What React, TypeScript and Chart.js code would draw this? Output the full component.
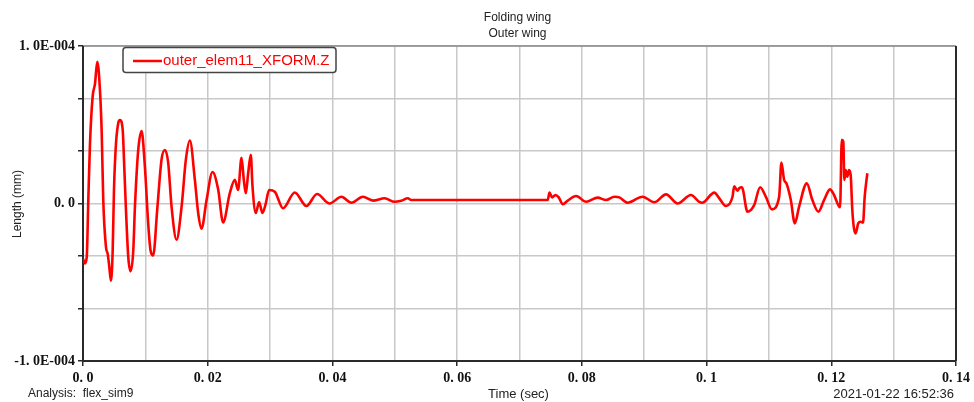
import { useEffect, useRef } from "react";
import { Chart, registerables } from "chart.js";

Chart.register(...registerables);

// Z displacement of outer_elem11 over time (values in units of 1e-5 mm)
const LENGTH_UNIT = 1e-5;

const timeSec = [
  0, 0.0003, 0.0006, 0.00085, 0.00112, 0.00155, 0.00192, 0.00229, 0.00272, 0.003,
  0.00325, 0.00368, 0.00396, 0.00421, 0.00448, 0.00476, 0.00497, 0.00529, 0.00565, 0.00593,
  0.00636, 0.00662, 0.00689, 0.00726, 0.00764, 0.00806, 0.00833, 0.00886, 0.0094, 0.00993,
  0.01046, 0.01084, 0.01126, 0.0119, 0.0126, 0.01313, 0.01366, 0.0142, 0.015, 0.01581,
  0.0165, 0.01714, 0.01794, 0.01847, 0.01901, 0.01981, 0.02077, 0.02167, 0.02247, 0.02354,
  0.02435, 0.02487, 0.02542, 0.02579, 0.02611, 0.02648, 0.02691, 0.02718, 0.02771, 0.02824,
  0.02878, 0.02931, 0.02984, 0.03075, 0.03208, 0.03396, 0.03583, 0.03753, 0.03956, 0.04143,
  0.04304, 0.04489, 0.0465, 0.04837, 0.04997, 0.05104, 0.0521, 0.05265, 0.07453, 0.0748,
  0.07523, 0.07576, 0.07629, 0.07693, 0.07773, 0.07908, 0.08068, 0.08254, 0.08388, 0.08521,
  0.08601, 0.08734, 0.08974, 0.09162, 0.09349, 0.09535, 0.09749, 0.09882, 0.09931, 0.10124,
  0.10204, 0.1031, 0.10416, 0.10443, 0.10496, 0.10523, 0.10566, 0.10656, 0.10763, 0.10859,
  0.1095, 0.11047, 0.11164, 0.112, 0.11244, 0.1128, 0.11351, 0.11415, 0.11484, 0.11607,
  0.11697, 0.11793, 0.11884, 0.1198, 0.12044, 0.12141, 0.12168, 0.12193, 0.12209, 0.12231,
  0.12257, 0.12284, 0.12311, 0.12337, 0.12364, 0.1239, 0.12432, 0.1247, 0.12509, 0.12536,
  0.12578,
];

const zLength = [
  -3.5, -3.8, -3.4, 0.2, 3.8, 6.8, 7.6, 9.0, 7.2, 4.5,
  0.2, -2.75, -3.2, -4.0, -4.9, -3.0, 0.9, 3.8, 5.1, 5.3,
  4.7, 2.3, -0.4, -3.4, -4.3, -3.0, -0.2, 3.4, 4.6, 2.3,
  -1.3, -3.0, -3.3, -0.4, 2.8, 3.4, 2.6, -0.2, -2.3, -0.2,
  2.8, 4.0, 1.5, -0.6, -1.6, 0.2, 2.0, 0.9, -1.2, 0.65,
  1.5, 0.86, 2.9, 1.5, 0.65, 1.9, 3.1, 1.1, -0.6, 0.1,
  -0.6, 0, 0.86, 0.75, -0.3, 0.7, -0.16, 0.6, 0, 0.43,
  0.05, 0.43, 0.18, 0.33, 0.11, 0.18, 0.33, 0.22, 0.22, 0.69,
  0.39, 0.54, 0.39, -0.05, 0.18, 0.48, 0.11, 0.37, 0.22, 0.43,
  0.39, 0.05, 0.43, 0.08, 0.58, 0, 0.54, 0.11, 0.05, 0.69,
  0.33, -0.16, 0.43, 1.1, 0.81, 0.97, 1.03, -0.52, -0.1, 1.03,
  0.43, -0.37, 0.43, 2.6, 1.49, 1.28, 0.22, -1.26, -0.2, 1.28,
  0.22, -0.52, 0.22, 0.9, 0.54, -0.24, 4.04, 3.93, 1.49, 2.13,
  1.7, 2.13, 1.81, -0.41, -1.58, -1.9, -1.26, -1.16, -1.22, 0.43,
  1.92,
];

const xTickValues = [0, 0.01, 0.02, 0.03, 0.04, 0.05, 0.06, 0.07, 0.08, 0.09, 0.1, 0.11, 0.12, 0.13, 0.14];
const xTickLabels = ["0. 0", "", "0. 02", "", "0. 04", "", "0. 06", "", "0. 08", "", "0. 1", "", "0. 12", "", "0. 14"];

const yTickValues = [-1e-4, -6.6667e-5, -3.3333e-5, 0, 3.3333e-5, 6.6667e-5, 1e-4];
const yTickLabels = ["-1. 0E-004", "", "", "0. 0", "", "", "1. 0E-004"];

const titleLines = ["Folding wing", "Outer wing"];
const seriesName = "outer_elem11_XFORM.Z";
const xAxisTitle = "Time (sec)";
const yAxisTitle = "Length (mm)";
const analysisText = "Analysis:  flex_sim9";
const stampText = "2021-01-22 16:52:36";

const SERIES_COLOR = "#ff0000";
const GRID_COLOR = "#c8c8c8";
const AXIS_COLOR = "#2a2a2a";
const TEXT_COLOR = "#222222";
const SANS = "'Liberation Sans', Arial, sans-serif";
const SERIF = "'Liberation Serif', 'Times New Roman', serif";

const decorations = {
  id: "plotDecorations",
  beforeDatasetsDraw(chart: any) {
    const { ctx, chartArea: a } = chart;
    ctx.save();
    // plot frame
    ctx.lineWidth = 1.5;
    ctx.strokeStyle = "#8a8a8a";
    ctx.beginPath();
    ctx.moveTo(a.left, a.top);
    ctx.lineTo(a.right, a.top);
    ctx.stroke();
    ctx.strokeStyle = AXIS_COLOR;
    ctx.lineWidth = 2;
    ctx.beginPath();
    ctx.moveTo(a.right, a.top);
    ctx.lineTo(a.right, a.bottom);
    ctx.stroke();
    ctx.beginPath();
    ctx.moveTo(a.left, a.top);
    ctx.lineTo(a.left, a.bottom);
    ctx.lineTo(a.right, a.bottom);
    ctx.stroke();
    ctx.restore();
  },
  afterDraw(chart: any) {
    const { ctx, chartArea: a } = chart;
    const cx = (a.left + a.right) / 2;
    ctx.save();
    ctx.fillStyle = TEXT_COLOR;
    ctx.textBaseline = "middle";
    ctx.textAlign = "center";
    ctx.font = `12px ${SANS}`;
    ctx.fillText(titleLines[0], cx - 2, 18);
    ctx.fillText(titleLines[1], cx - 2, 34);

    // bottom strip
    ctx.font = `13px ${SANS}`;
    ctx.fillText(xAxisTitle, cx - 1, 394);
    ctx.textAlign = "right";
    ctx.fillText(stampText, 954, 394);
    ctx.textAlign = "left";
    ctx.font = `12px ${SANS}`;
    ctx.fillText(analysisText, 28, 394);

    // y axis title
    ctx.save();
    ctx.translate(18, 204);
    ctx.rotate(-Math.PI / 2);
    ctx.textAlign = "center";
    ctx.fillText(yAxisTitle, 0, 0);
    ctx.restore();

    // legend box
    const ds = chart.data.datasets[0];
    const bx = 123, by = 47.5, bw = 213, bh = 25;
    ctx.fillStyle = "#ffffff";
    ctx.strokeStyle = "#444444";
    ctx.lineWidth = 1.5;
    ctx.beginPath();
    (ctx as any).roundRect(bx, by, bw, bh, 3);
    ctx.fill();
    ctx.stroke();
    ctx.strokeStyle = ds.borderColor;
    ctx.lineWidth = 2.5;
    ctx.beginPath();
    ctx.moveTo(133, 61);
    ctx.lineTo(162, 61);
    ctx.stroke();
    ctx.fillStyle = ds.borderColor;
    ctx.font = `15px ${SANS}`;
    ctx.textAlign = "left";
    ctx.fillText(ds.label, 163, 61);
    ctx.restore();
  },
};

export default function App() {
  const canvasRef = useRef<HTMLCanvasElement | null>(null);

  useEffect(() => {
    const canvas = canvasRef.current;
    if (!canvas) return;
    const points = timeSec.map((t, i) => ({ x: t, y: zLength[i] * LENGTH_UNIT }));

    const chart = new Chart(canvas, {
      type: "scatter",
      data: {
        datasets: [
          {
            label: seriesName,
            data: points,
            showLine: true,
            borderColor: SERIES_COLOR,
            backgroundColor: SERIES_COLOR,
            borderWidth: 2.6,
            borderJoinStyle: "round",
            pointRadius: 0,
            cubicInterpolationMode: "monotone",
          },
        ],
      },
      options: {
        animation: false,
        responsive: false,
        devicePixelRatio: 1,
        layout: { padding: { top: 46, right: 17, bottom: 0, left: 0 } },
        plugins: {
          legend: { display: false },
          tooltip: { enabled: false },
          title: { display: false },
        },
        scales: {
          x: {
            type: "linear",
            min: 0,
            max: 0.14,
            border: { display: false },
            afterBuildTicks: (scale: any) => {
              scale.ticks = xTickValues.map((v) => ({ value: v }));
            },
            afterFit: (scale: any) => {
              scale.height = 41;
            },
            grid: {
              color: GRID_COLOR,
              lineWidth: 1.5,
              drawTicks: true,
              tickLength: 5,
              tickWidth: 1.5,
              tickColor: (c: any) => (xTickLabels[c.index] ? AXIS_COLOR : "rgba(0,0,0,0)"),
            },
            ticks: {
              autoSkip: false,
              maxRotation: 0,
              padding: 4,
              color: "#111111",
              font: { family: SERIF, size: 14, weight: "bold" },
              callback: (_v: any, i: number) => xTickLabels[i],
            },
          },
          y: {
            type: "linear",
            min: -1e-4,
            max: 1e-4,
            border: { display: false },
            afterBuildTicks: (scale: any) => {
              scale.ticks = yTickValues.map((v) => ({ value: v }));
            },
            afterFit: (scale: any) => {
              scale.width = 83;
            },
            grid: {
              color: GRID_COLOR,
              lineWidth: 1.5,
              drawTicks: true,
              tickLength: 5,
              tickWidth: 1.5,
              tickColor: AXIS_COLOR,
            },
            ticks: {
              autoSkip: false,
              padding: 3,
              color: "#111111",
              font: { family: SERIF, size: 14, weight: "bold" },
              callback: (_v: any, i: number) => yTickLabels[i],
            },
          },
        },
      },
      plugins: [decorations],
    });

    return () => chart.destroy();
  }, []);

  return (
    <div style={{ position: "fixed", left: 0, top: 0, width: 974, height: 402, background: "#ffffff" }}>
      <canvas ref={canvasRef} width={974} height={402} style={{ width: 974, height: 402, display: "block" }} />
    </div>
  );
}
